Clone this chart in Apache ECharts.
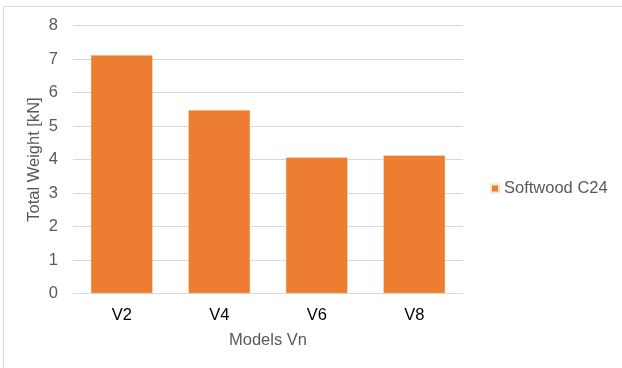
<!DOCTYPE html>
<html>
<head>
<meta charset="utf-8">
<script src="https://cdn.jsdelivr.net/npm/echarts@6/dist/echarts.min.js"></script>
<style>
  html, body { margin: 0; padding: 0; background: #ffffff; }
  #chart { width: 622px; height: 368px; }
</style>
</head>
<body>
<div id="chart"></div>
<script>
// Model variants and their total self-weight in kN
const models = ['V2', 'V4', 'V6', 'V8'];
const softwoodC24 = [7.12, 5.48, 4.07, 4.13];
const seriesName = 'Softwood C24';

const font = 'Liberation Sans, Arial, sans-serif';
const chart = echarts.init(document.getElementById('chart'));

chart.setOption({
  animation: false,
  backgroundColor: '#ffffff',
  textStyle: { fontFamily: font },
  graphic: [
    // thin frame along the top and left edges
    { type: 'line', shape: { x1: 3.5, y1: 6.5, x2: 622, y2: 6.5 }, style: { stroke: '#d9d9d9', lineWidth: 1 } },
    { type: 'line', shape: { x1: 3.5, y1: 6.5, x2: 3.5, y2: 368 }, style: { stroke: '#d9d9d9', lineWidth: 1 } }
  ],
  legend: {
    data: [seriesName],
    orient: 'vertical',
    left: 490,
    top: 180,
    padding: 0,
    icon: 'rect',
    itemWidth: 8,
    itemHeight: 8,
    textStyle: { color: '#595959', fontSize: 16.5, fontFamily: font }
  },
  grid: { left: 73, right: 159, top: 25.5, bottom: 74.5, containLabel: false },
  xAxis: {
    type: 'category',
    data: models,
    name: 'Models Vn',
    nameLocation: 'middle',
    nameGap: 38,
    nameMoveOverlap: false,
    nameTextStyle: { color: '#595959', fontSize: 16.5, fontFamily: font },
    axisLine: { lineStyle: { color: '#d9d9d9', width: 1 } },
    axisTick: { show: false },
    axisLabel: { color: '#000000', fontSize: 16.5, margin: 13, fontFamily: font }
  },
  yAxis: {
    type: 'value',
    min: 0,
    max: 8,
    interval: 1,
    name: 'Total Weight [kN]',
    nameLocation: 'middle',
    nameGap: 30,
    nameMoveOverlap: false,
    nameRotate: 90,
    nameTextStyle: { color: '#595959', fontSize: 16.5, fontFamily: font },
    axisLine: { show: false },
    axisTick: { show: false },
    axisLabel: { color: '#595959', fontSize: 16.5, margin: 15, fontFamily: font },
    splitLine: { lineStyle: { color: '#d9d9d9', width: 1 } }
  },
  series: [{
    name: seriesName,
    type: 'bar',
    data: softwoodC24,
    barWidth: 62,
    itemStyle: { color: '#ed7d31', borderColor: '#fbe3d3', borderWidth: 0.5 }
  }]
});
</script>
</body>
</html>
